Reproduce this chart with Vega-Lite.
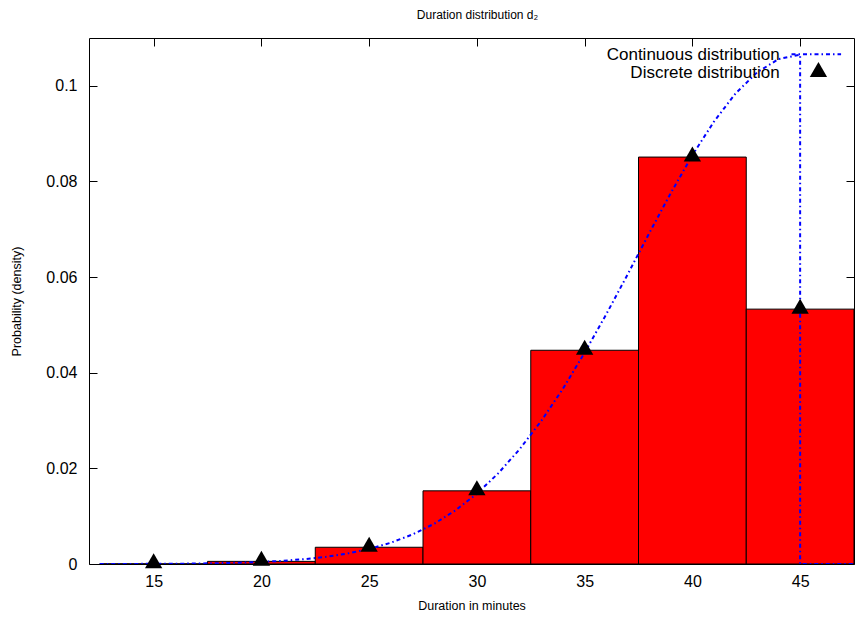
{
  "$schema": "https://vega.github.io/schema/vega-lite/v6.json",
  "width": 765,
  "height": 526,
  "autosize": {"type": "none"},
  "padding": {"left": 89, "top": 38, "right": 2, "bottom": 53},
  "background": "white",
  "title": {"text": "Duration distribution d₂", "fontSize": 12, "fontWeight": "normal", "color": "black", "offset": 16, "dx": 6},
  "config": {
    "font": "Liberation Sans",
    "view": {"stroke": "black", "strokeWidth": 1},
    "axis": {"domain": false, "grid": false, "tickColor": "black", "tickSize": -8, "tickWidth": 1, "labelColor": "black", "titleColor": "black", "labelFontSize": 16, "titleFontSize": 12.5, "titleFontWeight": "normal", "labelFont": "Liberation Sans", "titleFont": "Liberation Sans"}
  },
  "datasets": {
    "bars": [
      {"x": 15, "x0": 12.5, "x1": 17.5, "p": 0.00003},
      {"x": 20, "x0": 17.5, "x1": 22.5, "p": 0.00055},
      {"x": 25, "x0": 22.5, "x1": 27.5, "p": 0.0035},
      {"x": 30, "x0": 27.5, "x1": 32.5, "p": 0.0153},
      {"x": 35, "x0": 32.5, "x1": 37.5, "p": 0.0447},
      {"x": 40, "x0": 37.5, "x1": 42.5, "p": 0.0851},
      {"x": 45, "x0": 42.5, "x1": 47.5, "p": 0.0533}
    ],
    "curve": [
      {"i": 0, "t": 12.5, "f": 0.00001},
      {"i": 1, "t": 13, "f": 0.00001},
      {"i": 2, "t": 14, "f": 0.00002},
      {"i": 3, "t": 15, "f": 0.00004},
      {"i": 4, "t": 16, "f": 0.00006},
      {"i": 5, "t": 17, "f": 0.0001},
      {"i": 6, "t": 18, "f": 0.00017},
      {"i": 7, "t": 19, "f": 0.00028},
      {"i": 8, "t": 20, "f": 0.00044},
      {"i": 9, "t": 21, "f": 0.00067},
      {"i": 10, "t": 22, "f": 0.00101},
      {"i": 11, "t": 23, "f": 0.00151},
      {"i": 12, "t": 24, "f": 0.0022},
      {"i": 13, "t": 25, "f": 0.00315},
      {"i": 14, "t": 26, "f": 0.00444},
      {"i": 15, "t": 27, "f": 0.00615},
      {"i": 16, "t": 28, "f": 0.00837},
      {"i": 17, "t": 29, "f": 0.0112},
      {"i": 18, "t": 30, "f": 0.0147},
      {"i": 19, "t": 31, "f": 0.019},
      {"i": 20, "t": 32, "f": 0.0241},
      {"i": 21, "t": 33, "f": 0.03},
      {"i": 22, "t": 34, "f": 0.0367},
      {"i": 23, "t": 35, "f": 0.0442},
      {"i": 24, "t": 36, "f": 0.0522},
      {"i": 25, "t": 37, "f": 0.0606},
      {"i": 26, "t": 38, "f": 0.0692},
      {"i": 27, "t": 39, "f": 0.0776},
      {"i": 28, "t": 40, "f": 0.0855},
      {"i": 29, "t": 41, "f": 0.0925},
      {"i": 30, "t": 42, "f": 0.0984},
      {"i": 31, "t": 43, "f": 0.1028},
      {"i": 32, "t": 44, "f": 0.1056},
      {"i": 33, "t": 45, "f": 0.1065},
      {"i": 34, "t": 45, "f": 0},
      {"i": 35, "t": 47.5, "f": 0}
    ],
    "legend": [
      {"label": "Continuous distribution", "lx": 44.05, "ly": 0.1064},
      {"label": "Discrete distribution", "lx": 44.05, "ly": 0.1027}
    ],
    "legendLine": [
      {"a": 44.6, "b": 46.9, "v": 0.1066}
    ],
    "legendPoint": [
      {"px": 45.85, "py": 0.1028}
    ]
  },
  "layer": [
    {
      "data": {"name": "bars"},
      "mark": {"type": "rect", "fill": "#ff0000", "stroke": "black", "strokeWidth": 1, "clip": true},
      "encoding": {
        "x": {"field": "x0", "type": "quantitative", "scale": {"domain": [12, 47.5], "nice": false, "zero": false},
          "axis": {"orient": "bottom", "values": [15, 20, 25, 30, 35, 40, 45], "title": "Duration in minutes", "labelPadding": 17, "titlePadding": 10}},
        "x2": {"field": "x1"},
        "y": {"field": "p", "type": "quantitative", "scale": {"domain": [0, 0.11], "nice": false},
          "axis": {"orient": "left", "values": [0, 0.02, 0.04, 0.06, 0.08, 0.1], "format": "~g", "title": "Probability (density)", "labelPadding": 20, "titlePadding": 22}},
        "y2": {"datum": 0}
      }
    },
    {
      "data": {"name": "curve"},
      "mark": {"type": "line", "color": "#0000ff", "strokeWidth": 2, "strokeDash": [4, 3, 1.5, 3], "clip": true},
      "encoding": {
        "x": {"field": "t", "type": "quantitative", "axis": null},
        "y": {"field": "f", "type": "quantitative", "axis": null},
        "order": {"field": "i", "type": "quantitative"}
      }
    },
    {
      "data": {"name": "bars"},
      "mark": {"type": "point", "shape": "triangle-up", "filled": true, "color": "black", "opacity": 1, "size": 300, "yOffset": -3},
      "encoding": {
        "x": {"field": "x", "type": "quantitative",
          "axis": {"orient": "top", "values": [15, 20, 25, 30, 35, 40, 45], "labels": false, "title": null}},
        "y": {"field": "p", "type": "quantitative",
          "axis": {"orient": "right", "values": [0, 0.02, 0.04, 0.06, 0.08, 0.1], "labels": false, "title": null}}
      }
    },
    {
      "data": {"name": "legend"},
      "mark": {"type": "text", "align": "right", "baseline": "middle", "fontSize": 17, "color": "black", "font": "Liberation Sans"},
      "encoding": {
        "x": {"field": "lx", "type": "quantitative", "axis": null},
        "y": {"field": "ly", "type": "quantitative", "axis": null},
        "text": {"field": "label"}
      }
    },
    {
      "data": {"name": "legendLine"},
      "mark": {"type": "rule", "color": "#0000ff", "strokeWidth": 2, "strokeDash": [4, 3, 1.5, 3]},
      "encoding": {
        "x": {"field": "a", "type": "quantitative", "axis": null},
        "x2": {"field": "b"},
        "y": {"field": "v", "type": "quantitative", "axis": null}
      }
    },
    {
      "data": {"name": "legendPoint"},
      "mark": {"type": "point", "shape": "triangle-up", "filled": true, "color": "black", "opacity": 1, "size": 300, "yOffset": -3},
      "encoding": {
        "x": {"field": "px", "type": "quantitative", "axis": null},
        "y": {"field": "py", "type": "quantitative", "axis": null}
      }
    }
  ],
  "resolve": {"axis": {"x": "independent", "y": "independent"}}
}
